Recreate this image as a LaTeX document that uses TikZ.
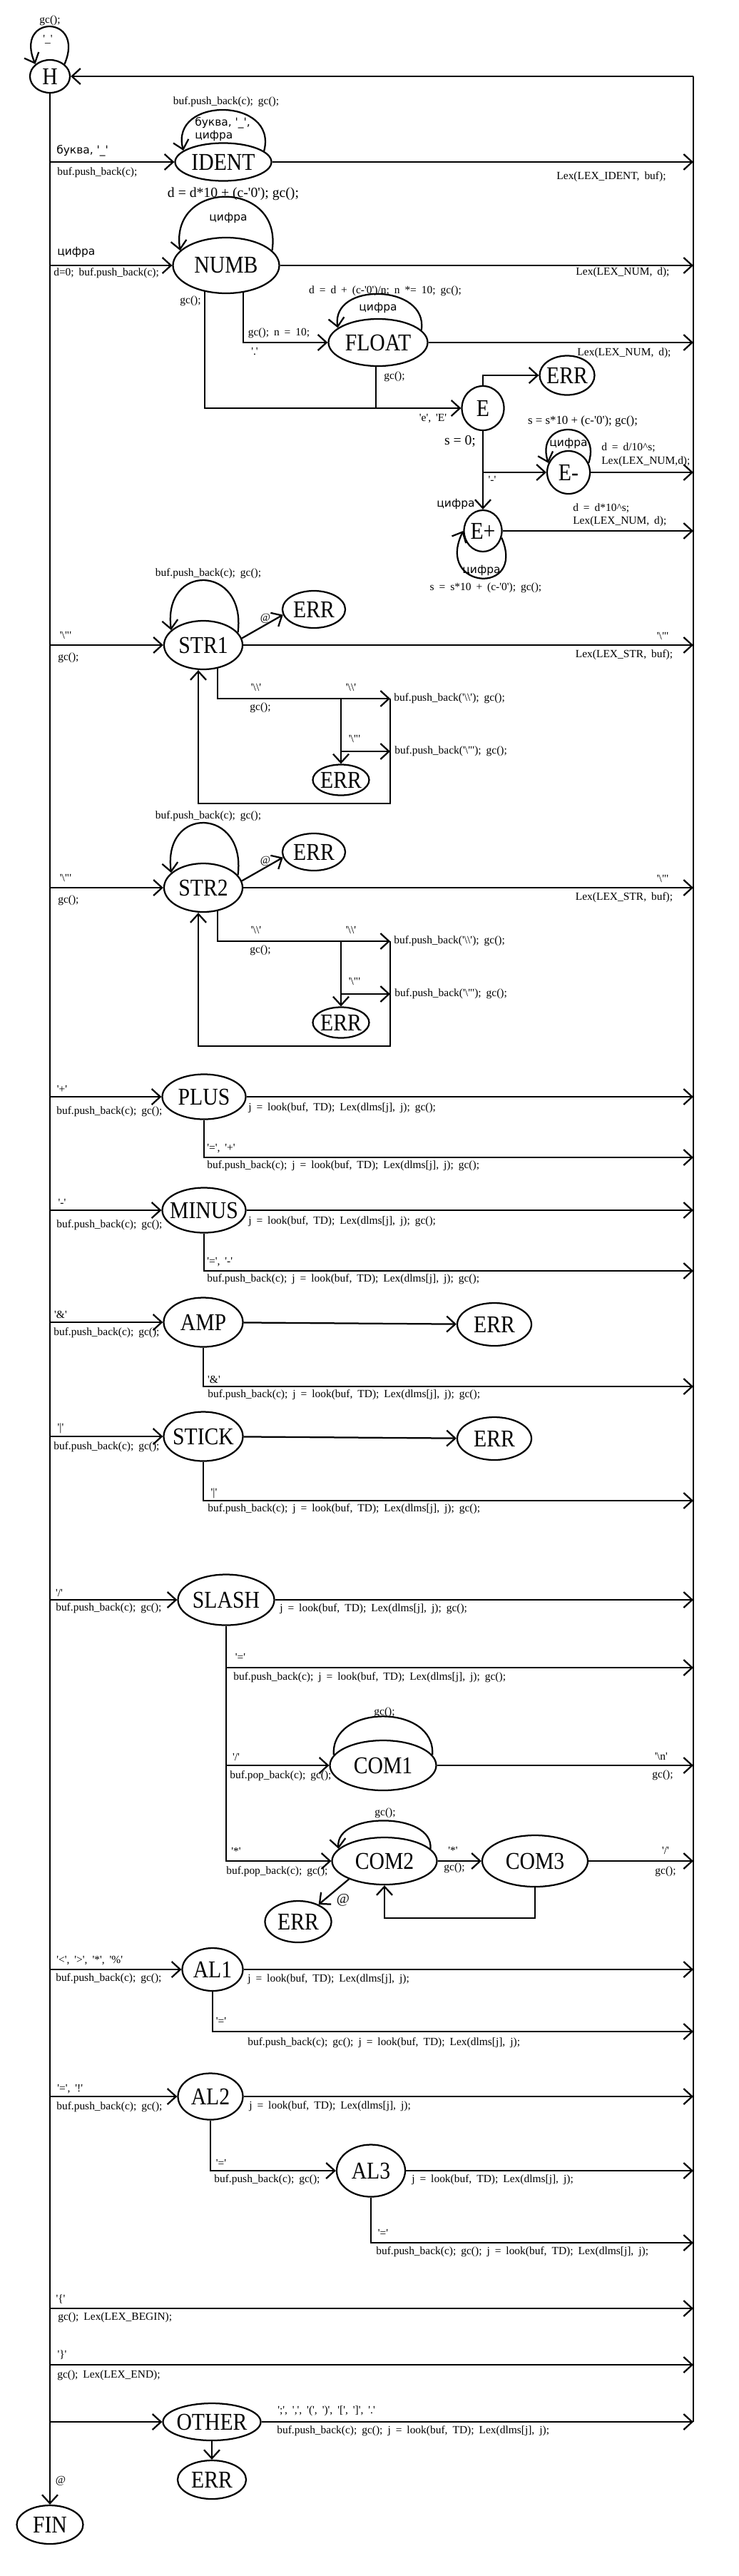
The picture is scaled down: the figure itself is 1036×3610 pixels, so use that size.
\documentclass[tikz,border=0pt]{standalone}
\usepackage{fontspec}
\usepackage{tikz}
\usetikzlibrary{arrows.meta, shapes.geometric, backgrounds}
\newfontfamily\lblfont{Liberation Serif}
\newfontfamily\statefont{Liberation Serif}[FakeStretch=0.88]
\newfontfamily\cyrfont{DejaVu Sans}
\newcommand{\sn}[1]{\hbox to 0pt{\hss#1\hss}}
\newcommand{\bksl}{\textbackslash}
\newcommand{\lblsetup}{\lblfont\fontsize{11}{13}\selectfont
  \spaceskip=0.45em plus 0.1em\relax}
\tikzset{
  state/.style={ellipse, draw, line width=1.6pt, fill=white, inner sep=0pt,
    font=\statefont\fontsize{24}{26}\selectfont},
  sz/.style 2 args={minimum width=#1cm, minimum height=#2cm},
  arr/.style={-{Straight Barb[length=3mm, width=5.5mm]}, line width=1.6pt},
  wire/.style={line width=1.6pt},
  lbl/.style={font=\lblsetup, inner sep=0pt},
  cyr/.style={font=\cyrfont\fontsize{11}{13}\selectfont, inner sep=0pt},
  midl/.style={font=\lblfont\fontsize{12}{14}\selectfont, inner sep=0pt},
  bigl/.style={font=\lblfont\fontsize{14}{16}\selectfont, inner sep=0pt},
}

\begin{document}
\begin{tikzpicture}[x=0.025cm, y=-0.025cm]
  \useasboundingbox (0,0) rectangle (1036,3610);
  % ---------------- start, finish and the two rails ----------------
  \node[state, sz={1.4}{1.15}] (H) at (70,107) {\sn{H}};
  \node[state, sz={2.325}{1.35}] (FIN) at (70,3538) {\sn{FIN}};
  \coordinate (bus) at (972,107);
  \coordinate (busend) at (972,3394);
  \node[lbl] (lH1) at (70,29) {gc();};
  \node[lbl] (lH2) at (67,55) {'\_'};
  \node[lbl] (lH3) at (85,3477) {@};
  \begin{scope}[on background layer]
    \draw[arr] (H.40) .. controls +(30,-70) and +(-30,-70) .. (H.140);
    \draw[arr] (bus) -- (H);
    \draw[wire] (bus) -- (busend);
    \draw[arr] (H) -- (FIN);
  \end{scope}

  % ---------------- identifiers ----------------
  \node[state, sz={3.375}{1.325}] (IDENT) at (313,227) {\sn{IDENT}};
  \node[lbl] (lI1) at (317,143) {buf.push\_back(c); gc();};
  \node[cyr, anchor=west] (lI2) at (273,172) {буква, '\_',};
  \node[cyr, anchor=west] (lI3) at (273,190) {цифра};
  \node[cyr, anchor=west] (lI4) at (79,211) {буква, '\_'};
  \node[lbl, anchor=west] (lI5) at (80,242) {buf.push\_back(c);};
  \node[lbl] (lI6) at (857,248) {Lex(LEX\_IDENT, buf);};
  \begin{scope}[on background layer]
    \draw[arr] (IDENT.15) .. controls +(20,-76) and +(-20,-76) .. (IDENT.164);
    \draw[arr] (H |- IDENT) -- (IDENT);
    \draw[arr] (IDENT) -- (bus |- IDENT);
  \end{scope}

  % ---------------- numbers ----------------
  \node[state, sz={3.725}{1.95}] (NUMB) at (317,372) {\sn{NUMB}};
  \node[state, sz={3.475}{1.65}] (FLOAT) at (530,480) {\sn{FLOAT}};
  \node[state, sz={1.475}{1.55}] (E) at (677,572) {\sn{E}};
  \node[state, sz={1.925}{1.375}] (ERRe) at (795,526) {\sn{ERR}};
  \node[state, sz={1.5}{1.5}] (Em) at (797,662) {\sn{E-}};
  \node[state, sz={1.325}{1.45}] (Ep) at (677,744) {\sn{E+}};
  \coordinate (nf) at (341,480);
  \coordinate (ne) at (287,572);
  \coordinate (fe) at (527,572);
  \coordinate (ee) at (677,526);
  \coordinate (em) at (677,662);
  \node[bigl] (lN0) at (327,272) {d = d*10 + (c-'0'); gc();};
  \node[cyr] (lN1) at (320,305) {цифра};
  \node[cyr, anchor=west] (lN2) at (80,353) {цифра};
  \node[lbl, anchor=west] (lN3) at (75,383) {d=0; buf.push\_back(c);};
  \node[lbl] (lN4) at (873,382) {Lex(LEX\_NUM, d);};
  \node[lbl] (lN5) at (267,422) {gc();};
  \node[lbl] (lF1) at (540,408) {d = d + (c-'0')/n; n *= 10; gc();};
  \node[cyr] (lF2) at (530,431) {цифра};
  \node[lbl] (lF3) at (391,467) {gc(); n = 10;};
  \node[lbl] (lF4) at (357,493) {'.'};
  \node[lbl] (lF5) at (875,495) {Lex(LEX\_NUM, d);};
  \node[lbl] (lF6) at (553,528) {gc();};
  \node[lbl] (lE1) at (607,587) {'e', 'E'};
  \node[midl] (lE2) at (817,590) {s = s*10 + (c-'0'); gc();};
  \node[bigl] (lE3) at (645,618) {s = 0;};
  \node[cyr] (lE4) at (797,621) {цифра};
  \node[lbl, anchor=west] (lE5) at (843,627) {d = d/10\textasciicircum s;};
  \node[lbl, anchor=west] (lE6) at (843,647) {Lex(LEX\_NUM,d);};
  \node[lbl] (lE7) at (690,672) {'-'};
  \node[cyr] (lE8) at (639,706) {цифра};
  \node[lbl, anchor=west] (lE9) at (803,712) {d = d*10\textasciicircum s;};
  \node[lbl, anchor=west] (lE10) at (803,731) {Lex(LEX\_NUM, d);};
  \node[cyr] (lE11) at (675,799) {цифра};
  \node[lbl] (lE12) at (681,824) {s = s*10 + (c-'0'); gc();};
  \begin{scope}[on background layer]
    \draw[arr] (NUMB.18) .. controls +(15,-100) and +(-15,-100) .. (NUMB.162);
    \draw[arr] (H |- NUMB) -- (NUMB);
    \draw[arr] (NUMB) -- (bus |- NUMB);
    \draw[arr] (NUMB.center -| nf) -- (nf) -- (FLOAT);
    \draw[arr] (NUMB.center -| ne) -- (ne) -- (E);
    \draw[wire] (FLOAT.center -| fe) -- (fe);
    \draw[arr] (FLOAT.16) .. controls +(10,-65) and +(-10,-65) .. (FLOAT.160);
    \draw[arr] (FLOAT) -- (bus |- FLOAT);
    \draw[arr] (E) -- (ee) -- (ERRe);
    \draw[arr] (E) -- (Ep);
    \draw[arr] (em) -- (Em);
    \draw[arr] (Em.25) .. controls +(20,-62) and +(-20,-62) .. (Em.155);
    \draw[arr] (Em) -- (bus |- Em);
    \draw[arr] (Ep.-20) .. controls +(35,82) and +(-40,82) .. (Ep.180);
    \draw[arr] (Ep) -- (bus |- Ep);
  \end{scope}

  % ---------------- strings (two copies) ----------------
  \foreach \k/\off in {1/0, 2/340} {
    \node[state, sz={2.75}{1.7}] (STR\k) at (285,{904+\off}) {\sn{STR\k}};
    \node[state, sz={2.2}{1.3}] (ERRa\k) at (440,{854+\off}) {\sn{ERR}};
    \node[state, sz={1.975}{1.075}] (ERRb\k) at (478,{1093+\off}) {\sn{ERR}};
    \coordinate (sa\k) at (305,{979+\off});
    \coordinate (sb\k) at (547,{979+\off});
    \coordinate (sc\k) at (478,{979+\off});
    \coordinate (sd\k) at (478,{1053+\off});
    \coordinate (se\k) at (547,{1053+\off});
    \coordinate (sf\k) at (547,{1126+\off});
    \coordinate (sg\k) at (278,{1126+\off});
    \node[lbl] (str\k-l1) at (292,{804+\off}) {buf.push\_back(c); gc();};
    \node[lbl] (str\k-l2) at (372,{867+\off}) {@};
    \node[lbl] (str\k-l3) at (92,{890+\off}) {'\bksl"'};
    \node[lbl, anchor=west] (str\k-l4) at (81,{922+\off}) {gc();};
    \node[lbl] (str\k-l5) at (929,{891+\off}) {'\bksl"'};
    \node[lbl] (str\k-l6) at (875,{918+\off}) {Lex(LEX\_STR, buf);};
    \node[lbl] (str\k-l7) at (359,{963+\off}) {'\bksl\bksl'};
    \node[lbl] (str\k-l8) at (365,{992+\off}) {gc();};
    \node[lbl] (str\k-l9) at (492,{963+\off}) {'\bksl\bksl'};
    \node[lbl] (str\k-l10) at (497,{1035+\off}) {'\bksl"'};
    \node[lbl, anchor=west] (str\k-l11) at (552,{979+\off}) {buf.push\_back('\bksl\bksl'); gc();};
    \node[lbl, anchor=west] (str\k-l12) at (553,{1053+\off}) {buf.push\_back('\bksl"'); gc();};
    \begin{scope}[on background layer]
      \draw[arr] (STR\k.20) .. controls +(12,-95) and +(-12,-95) .. (STR\k.155);
      \draw[arr] (H |- STR\k) -- (STR\k);
      \draw[arr] (STR\k) -- (bus |- STR\k);
      \draw[arr] (STR\k.10) -- (ERRa\k.190);
      \draw[arr] (STR\k.center -| sa\k) -- (sa\k) -- (sb\k);
      \draw[arr] (sc\k) -- (ERRb\k);
      \draw[arr] (sd\k) -- (se\k);
      \draw[arr] (sb\k) -- (sf\k) -- (sg\k) -- (sg\k |- STR\k.south);
    \end{scope}
  }

  % ---------------- plus and minus ----------------
  \foreach \nm/\ch/\off in {PLUS/+/0, MINUS/-/159} {
    \node[state, sz={2.925}{1.575}] (\nm) at (286,{1537+\off}) {\sn{\nm}};
    \coordinate (\nm-d) at (286,{1622+\off});
    \node[lbl] (\nm-l1) at (87,{1526+\off}) {'\ch'};
    \node[lbl, anchor=west] (\nm-l2) at (79,{1558+\off}) {buf.push\_back(c); gc();};
    \node[lbl, anchor=west] (\nm-l3) at (348,{1553+\off}) {j = look(buf, TD); Lex(dlms[j], j); gc();};
    \node[lbl, anchor=west] (\nm-l4) at (290,{1610+\off}) {'=', '\ch'};
    \node[lbl, anchor=west] (\nm-l5) at (290,{1634+\off}) {buf.push\_back(c); j = look(buf, TD); Lex(dlms[j], j); gc();};
    \begin{scope}[on background layer]
      \draw[arr] (H |- \nm) -- (\nm);
      \draw[arr] (\nm) -- (bus |- \nm);
      \draw[arr] (\nm) -- (\nm-d) -- (bus |- \nm-d);
    \end{scope}
  }

  % ---------------- ampersand and stick ----------------
  \foreach \nm/\ch/\off in {AMP/\&/0, STICK/|/160} {
    \node[state, sz={2.775}{1.725}] (\nm) at (285,{1853+\off}) {\sn{\nm}};
    \node[state, sz={2.6}{1.5}] (\nm-err) at (693,{1856+\off}) {\sn{ERR}};
    \coordinate (\nm-d) at (285,{1943+\off});
    \node[lbl] (\nm-l1) at (85,{1842+\off}) {'\ch'};
    \node[lbl, anchor=west] (\nm-l2) at (75,{1868+\off}) {buf.push\_back(c); gc();};
    \node[lbl] (\nm-l3) at (300,{1933+\off}) {'\ch'};
    \node[lbl, anchor=west] (\nm-l4) at (291,{1955+\off}) {buf.push\_back(c); j = look(buf, TD); Lex(dlms[j], j); gc();};
    \begin{scope}[on background layer]
      \draw[arr] (H |- \nm) -- (\nm);
      \draw[arr] (\nm) -- (\nm-err);
      \draw[arr] (\nm) -- (\nm-d) -- (bus |- \nm-d);
    \end{scope}
  }

  % ---------------- slash and comments ----------------
  \node[state, sz={3.375}{1.775}] (SLASH) at (317,2242) {\sn{SLASH}};
  \node[state, sz={3.725}{1.75}] (COM1) at (537,2474) {\sn{COM1}};
  \node[state, sz={3.675}{1.65}] (COM2) at (539,2608) {\sn{COM2}};
  \node[state, sz={3.7}{1.8}] (COM3) at (750,2608) {\sn{COM3}};
  \node[state, sz={2.325}{1.45}] (ERRc) at (418,2693) {\sn{ERR}};
  \coordinate (sl1) at (317,2337);
  \coordinate (sl2) at (317,2474);
  \coordinate (sl3) at (317,2608);
  \coordinate (c3a) at (750,2688);
  \coordinate (c3b) at (539,2688);
  \node[lbl] (lSl1) at (83,2232) {'/'};
  \node[lbl, anchor=west] (lSl2) at (78,2254) {buf.push\_back(c); gc();};
  \node[lbl, anchor=west] (lSl3) at (392,2255) {j = look(buf, TD); Lex(dlms[j], j); gc();};
  \node[lbl] (lSl4) at (337,2322) {'='};
  \node[lbl, anchor=west] (lSl5) at (327,2351) {buf.push\_back(c); j = look(buf, TD); Lex(dlms[j], j); gc();};
  \node[lbl] (lC1) at (539,2400) {gc();};
  \node[lbl] (lC2) at (331,2462) {'/'};
  \node[lbl, anchor=west] (lC3) at (322,2489) {buf.pop\_back(c); gc();};
  \node[lbl] (lC4) at (927,2461) {'\bksl n'};
  \node[lbl] (lC5) at (929,2488) {gc();};
  \node[lbl] (lC6) at (540,2541) {gc();};
  \node[lbl] (lC7) at (331,2594) {'*'};
  \node[lbl, anchor=west] (lC8) at (317,2623) {buf.pop\_back(c); gc();};
  \node[lbl] (lC9) at (635,2593) {'*'};
  \node[lbl] (lC10) at (637,2618) {gc();};
  \node[lbl] (lC11) at (933,2593) {'/'};
  \node[lbl] (lC12) at (933,2623) {gc();};
  \node[bigl] (lC13) at (481,2663) {@};
  \begin{scope}[on background layer]
    \draw[arr] (H |- SLASH) -- (SLASH);
    \draw[arr] (SLASH) -- (bus |- SLASH);
    \draw[arr] (SLASH) -- (sl1) -- (bus |- sl1);
    \draw[arr] (sl1) -- (sl2) -- (COM1);
    \draw[arr] (sl2) -- (sl3) -- (COM2);
    \draw[wire] (COM1.12) .. controls +(5,-72) and +(-5,-72) .. (COM1.168);
    \draw[arr] (COM1) -- (bus |- COM1);
    \draw[arr] (COM2.15) .. controls +(5,-52) and +(-5,-52) .. (COM2.165);
    \draw[arr] (COM2) -- (COM3);
    \draw[arr] (COM3) -- (bus |- COM3);
    \draw[arr] (COM3) -- (c3a) -- (c3b) -- (COM2);
    \draw[arr] (COM2.207) -- (ERRc.40);
  \end{scope}

  % ---------------- two-character operators ----------------
  \node[state, sz={2.125}{1.5}] (AL1) at (298,2760) {\sn{AL1}};
  \node[state, sz={2.275}{1.625}] (AL2) at (295,2938) {\sn{AL2}};
  \node[state, sz={2.4}{1.825}] (AL3) at (520,3042) {\sn{AL3}};
  \coordinate (al1) at (298,2847);
  \coordinate (al2) at (295,3042);
  \coordinate (al3) at (520,3143);
  \node[lbl, anchor=west] (lA1) at (79,2748) {'<', '>', '*', '\%'};
  \node[lbl, anchor=west] (lA2) at (78,2773) {buf.push\_back(c); gc();};
  \node[lbl, anchor=west] (lA3) at (347,2774) {j = look(buf, TD); Lex(dlms[j], j);};
  \node[lbl] (lA4) at (310,2832) {'='};
  \node[lbl, anchor=west] (lA5) at (347,2863) {buf.push\_back(c); gc(); j = look(buf, TD); Lex(dlms[j], j);};
  \node[lbl, anchor=west] (lA6) at (80,2928) {'=', '!'};
  \node[lbl, anchor=west] (lA7) at (79,2953) {buf.push\_back(c); gc();};
  \node[lbl, anchor=west] (lA8) at (349,2952) {j = look(buf, TD); Lex(dlms[j], j);};
  \node[lbl] (lA9) at (310,3031) {'='};
  \node[lbl, anchor=west] (lA10) at (300,3055) {buf.push\_back(c); gc();};
  \node[lbl, anchor=west] (lA11) at (577,3055) {j = look(buf, TD); Lex(dlms[j], j);};
  \node[lbl] (lA12) at (537,3129) {'='};
  \node[lbl, anchor=west] (lA13) at (527,3156) {buf.push\_back(c); gc(); j = look(buf, TD); Lex(dlms[j], j);};
  \begin{scope}[on background layer]
    \draw[arr] (H |- AL1) -- (AL1);
    \draw[arr] (AL1) -- (bus |- AL1);
    \draw[arr] (AL1) -- (al1) -- (bus |- al1);
    \draw[arr] (H |- AL2) -- (AL2);
    \draw[arr] (AL2) -- (bus |- AL2);
    \draw[arr] (AL2) -- (al2) -- (AL3);
    \draw[arr] (AL3) -- (bus |- AL3);
    \draw[arr] (AL3) -- (al3) -- (bus |- al3);
  \end{scope}

  % ---------------- braces and the rest ----------------
  \coordinate (lbr) at (70,3235);
  \coordinate (rbr) at (70,3314);
  \node[state, sz={3.425}{1.3}] (OTHER) at (297,3394) {\sn{OTHER}};
  \node[state, sz={2.4}{1.35}] (ERRo) at (297,3475) {\sn{ERR}};
  \node[lbl] (lB1) at (85,3222) {'\{'};
  \node[lbl, anchor=west] (lB2) at (81,3248) {gc(); Lex(LEX\_BEGIN);};
  \node[lbl] (lB3) at (87,3300) {'\}'};
  \node[lbl, anchor=west] (lB4) at (80,3329) {gc(); Lex(LEX\_END);};
  \node[lbl, anchor=west] (lO1) at (389,3379) {';', ',', '(', ')', '[', ']', '.'};
  \node[lbl, anchor=west] (lO2) at (388,3407) {buf.push\_back(c); gc(); j = look(buf, TD); Lex(dlms[j], j);};
  \begin{scope}[on background layer]
    \draw[arr] (lbr) -- (bus |- lbr);
    \draw[arr] (rbr) -- (bus |- rbr);
    \draw[arr] (H |- OTHER) -- (OTHER);
    \draw[arr] (OTHER) -- (busend);
    \draw[arr] (OTHER) -- (ERRo);
  \end{scope}
\end{tikzpicture}
\end{document}
